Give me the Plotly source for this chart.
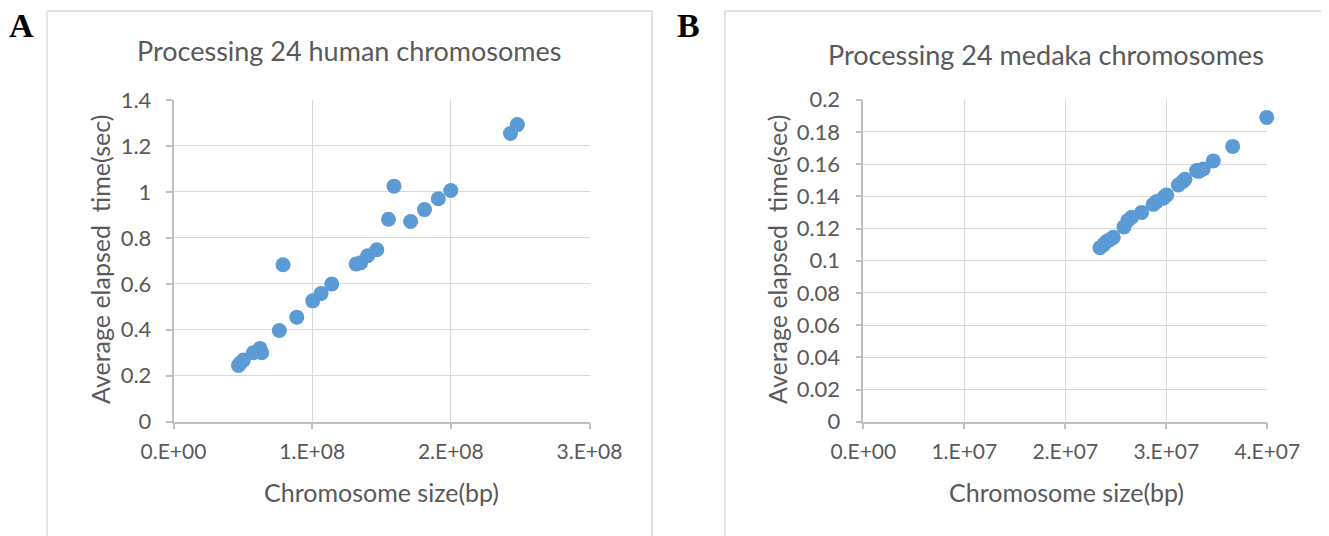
import plotly.graph_objects as go

# page body has an 8px margin, so the figure is drawn 8px in from the window corner
OFF = 8
W, H = 1329 - OFF, 536 - OFF

# ---------------- data ----------------
human_size_bp = [2.48e8, 2.43e8, 2.00e8, 1.91e8, 1.81e8, 1.71e8, 1.59e8, 1.55e8,
                 1.466e8, 1.40e8, 1.35e8, 1.317e8, 1.141e8, 1.064e8, 1.004e8, 0.889e8,
                 0.790e8, 0.763e8, 0.636e8, 0.624e8, 0.576e8, 0.504e8, 0.480e8, 0.468e8]
human_time_s = [1.293, 1.254, 1.006, 0.970, 0.923, 0.871, 1.025, 0.881,
                0.748, 0.722, 0.692, 0.686, 0.599, 0.558, 0.526, 0.455,
                0.683, 0.397, 0.300, 0.319, 0.300, 0.268, 0.254, 0.245]

medaka_size_bp = [3.994e7, 3.657e7, 3.465e7, 3.366e7, 3.334e7, 3.317e7, 3.300e7, 3.185e7,
                  3.160e7, 3.119e7, 3.004e7, 2.985e7, 2.970e7, 2.904e7, 2.870e7, 2.756e7,
                  2.657e7, 2.620e7, 2.581e7, 2.475e7, 2.440e7, 2.409e7, 2.380e7, 2.343e7]
medaka_time_s = [0.189, 0.171, 0.162, 0.157, 0.156, 0.1555, 0.156, 0.1506,
                 0.149, 0.147, 0.1408, 0.140, 0.1388, 0.1367, 0.135, 0.130,
                 0.127, 0.125, 0.121, 0.1145, 0.113, 0.112, 0.110, 0.108]

human_xticks = [0, 1e8, 2e8, 3e8]
human_xtext = ["0.E+00", "1.E+08", "2.E+08", "3.E+08"]
human_yticks = [0, 0.2, 0.4, 0.6, 0.8, 1.0, 1.2, 1.4]
human_ytext = ["0", "0.2", "0.4", "0.6", "0.8", "1", "1.2", "1.4"]

medaka_xticks = [0, 1e7, 2e7, 3e7, 4e7]
medaka_xtext = ["0.E+00", "1.E+07", "2.E+07", "3.E+07", "4.E+07"]
medaka_yticks = [0, 0.02, 0.04, 0.06, 0.08, 0.1, 0.12, 0.14, 0.16, 0.18, 0.2]
medaka_ytext = ["0", "0.02", "0.04", "0.06", "0.08", "0.1", "0.12", "0.14", "0.16", "0.18", "0.2"]

title_a = "Processing 24 human chromosomes"
title_b = "Processing 24 medaka chromosomes"
x_title = "Chromosome size(bp)"
y_title = "Average elapsed  time(sec)"

# ---------------- style ----------------
FONT = "Lato"
TXT = "#595959"
GRID = "#D9D9D9"
AXL = "#BFBFBF"
MARK = "#5B9BD5"


def px(x):
    return (x - OFF) / W


def py(y):
    return 1 - (y - OFF) / H


fig = go.Figure()
fig.add_trace(go.Scatter(x=human_size_bp, y=human_time_s, mode="markers",
                         marker=dict(size=15, color=MARK), xaxis="x", yaxis="y",
                         showlegend=False, cliponaxis=False))
fig.add_trace(go.Scatter(x=medaka_size_bp, y=medaka_time_s, mode="markers",
                         marker=dict(size=15, color=MARK), xaxis="x2", yaxis="y2",
                         showlegend=False, cliponaxis=False))

axis_common = dict(showgrid=True, gridcolor=GRID, gridwidth=1.3, zeroline=False,
                   showline=True, linecolor=AXL, linewidth=1.5,
                   ticks="outside", ticklen=6, tickcolor=AXL, tickwidth=1.5,
                   tickmode="array", fixedrange=True, automargin=False)
xfont = dict(family=FONT, size=21, color=TXT)
yfont = dict(family=FONT, size=22, color=TXT)

fig.update_layout(
    width=W, height=H, margin=dict(l=0, r=0, t=0, b=0, autoexpand=False),
    paper_bgcolor="white", plot_bgcolor="white", showlegend=False,
    xaxis=dict(domain=[px(173.5), px(589.5)], range=[0, 3e8], anchor="y", tickfont=xfont,
               tickvals=human_xticks, ticktext=human_xtext, ticklabelstandoff=4, **axis_common),
    yaxis=dict(domain=[py(421.7), py(100)], range=[0, 1.4], anchor="x", tickfont=yfont,
               tickvals=human_yticks, ticktext=human_ytext, ticklabelstandoff=10, **axis_common),
    xaxis2=dict(domain=[px(863.3), px(1267.3)], range=[0, 4e7], anchor="y2", tickfont=xfont,
                tickvals=medaka_xticks, ticktext=medaka_xtext, ticklabelstandoff=4, **axis_common),
    yaxis2=dict(domain=[py(421.7), py(99.7)], range=[0, 0.2], anchor="x2", tickfont=yfont,
                tickvals=medaka_yticks, ticktext=medaka_ytext, ticklabelstandoff=11, **axis_common),
)

# chart frames (top, left, right edges; bottom runs off the page)
frame_lines = [
    (47, 11, 652, 11), (47, 11, 47, 536), (652, 11, 652, 536),
    (725, 11, 1329, 11), (725, 11, 725, 536),
]
for x0, y0, x1, y1 in frame_lines:
    fig.add_shape(type="line", xref="paper", yref="paper",
                  x0=px(x0), x1=px(x1), y0=py(y0), y1=py(y1),
                  line=dict(color=GRID, width=1.5), layer="below")

ann = []
# panel letters
ann.append(dict(text="<b>A</b>", x=px(21), y=py(25), font=dict(family="Liberation Serif", size=34, color="black")))
ann.append(dict(text="<b>B</b>", x=px(688), y=py(25), font=dict(family="Liberation Serif", size=34, color="black")))
# titles
ann.append(dict(text=title_a, x=px(350), y=py(50), font=dict(family=FONT, size=27, color=TXT)))
ann.append(dict(text=title_b, x=px(1046), y=py(55), font=dict(family=FONT, size=27, color=TXT)))
# x titles
ann.append(dict(text=x_title, x=px(381), y=py(492), font=dict(family=FONT, size=25, color=TXT)))
ann.append(dict(text=x_title, x=px(1066), y=py(492), font=dict(family=FONT, size=25, color=TXT)))
# y titles
ann.append(dict(text=y_title, x=px(100), y=py(260), textangle=-90, font=dict(family=FONT, size=25, color=TXT)))
ann.append(dict(text=y_title, x=px(777), y=py(260), textangle=-90, font=dict(family=FONT, size=25, color=TXT)))

for a in ann:
    a.update(xref="paper", yref="paper", showarrow=False, xanchor="center", yanchor="middle")
    fig.add_annotation(**a)

fig.write_html("out.html")
